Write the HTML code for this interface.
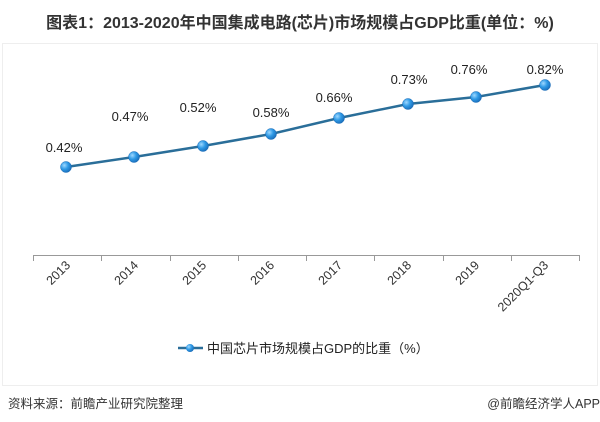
<!DOCTYPE html>
<html><head><meta charset="utf-8"><style>
body{margin:0;width:600px;height:422px;background:#fff;overflow:hidden;font-family:"Liberation Sans","Noto Sans CJK SC",sans-serif}
</style></head><body>
<svg width="600" height="422" xmlns="http://www.w3.org/2000/svg" style="position:absolute;left:0;top:0">
<defs><radialGradient id="g" cx="0.35" cy="0.35" r="0.7"><stop offset="0" stop-color="#9fd8ff"/><stop offset="0.5" stop-color="#2f9ae6"/><stop offset="1" stop-color="#1a6cb8"/></radialGradient></defs>
<text x="300" y="28" text-anchor="middle" font-size="16" font-weight="bold" fill="#333" font-family="Liberation Sans,Noto Sans CJK SC,sans-serif">图表1：2013-2020年中国集成电路(芯片)市场规模占GDP比重(单位：%)</text>
<rect x="2.5" y="43.5" width="595" height="342" fill="none" stroke="#eee"/>
<line x1="33" y1="255.5" x2="580" y2="255.5" stroke="#999"/>
<g stroke="#999">
<line x1="33.5" y1="255" x2="33.5" y2="261"/><line x1="101.5" y1="255" x2="101.5" y2="261"/><line x1="170.5" y1="255" x2="170.5" y2="261"/><line x1="238.5" y1="255" x2="238.5" y2="261"/><line x1="306.5" y1="255" x2="306.5" y2="261"/><line x1="374.5" y1="255" x2="374.5" y2="261"/><line x1="443.5" y1="255" x2="443.5" y2="261"/><line x1="511.5" y1="255" x2="511.5" y2="261"/><line x1="579.5" y1="255" x2="579.5" y2="261"/>
</g>
<g font-size="12.5" fill="#333" text-anchor="end">
<text transform="translate(71,266) rotate(-45)">2013</text>
<text transform="translate(139,266) rotate(-45)">2014</text>
<text transform="translate(207,266) rotate(-45)">2015</text>
<text transform="translate(275,266) rotate(-45)">2016</text>
<text transform="translate(343,266) rotate(-45)">2017</text>
<text transform="translate(412,266) rotate(-45)">2018</text>
<text transform="translate(480,266) rotate(-45)">2019</text>
<text transform="translate(549,266) rotate(-45)">2020Q1-Q3</text>
</g>
<polyline points="66,167 134,157 203,146 271,134 339,118 408,104 476,97 545,85" fill="none" stroke="#2a6e99" stroke-width="2.5"/>
<g fill="url(#g)" stroke="#1a6cb8" stroke-width="0.5">
<circle cx="66" cy="167" r="5.5"/><circle cx="134" cy="157" r="5.5"/><circle cx="203" cy="146" r="5.5"/><circle cx="271" cy="134" r="5.5"/><circle cx="339" cy="118" r="5.5"/><circle cx="408" cy="104" r="5.5"/><circle cx="476" cy="97" r="5.5"/><circle cx="545" cy="85" r="5.5"/>
</g>
<g font-size="13" fill="#222" text-anchor="middle">
<text x="64" y="152">0.42%</text><text x="130" y="121">0.47%</text><text x="198" y="112">0.52%</text><text x="271" y="117">0.58%</text><text x="334" y="102">0.66%</text><text x="409" y="84">0.73%</text><text x="469" y="74">0.76%</text><text x="545" y="74">0.82%</text>
</g>
<line x1="178" y1="348" x2="203" y2="348" stroke="#2a6e99" stroke-width="2.5"/>
<circle cx="190" cy="348" r="4" fill="url(#g)"/>
<text x="207" y="353" font-size="13" fill="#222">中国芯片市场规模占GDP的比重（%）</text>
<text x="8" y="408" font-size="12.5" fill="#333">资料来源：前瞻产业研究院整理</text>
<text x="600" y="408" font-size="12.5" fill="#333" text-anchor="end">@前瞻经济学人APP</text>
</svg>
</body></html>
